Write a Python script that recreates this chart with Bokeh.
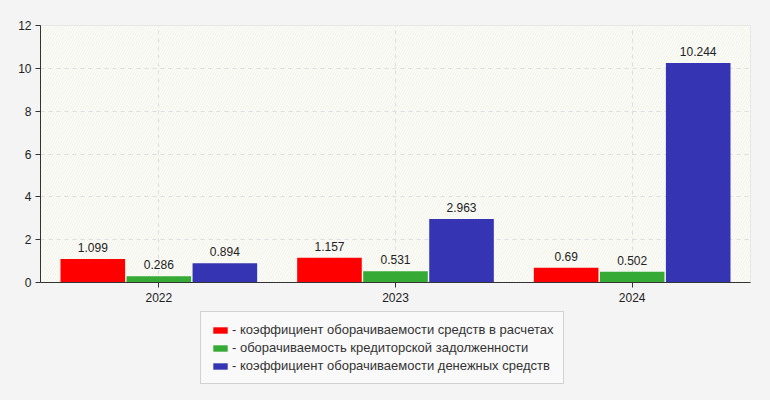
from bokeh.plotting import figure
from bokeh.layouts import column
from bokeh.models import (ColumnDataSource, FactorRange, Range1d, Legend, LegendItem,
                          LabelSet, BoxAnnotation, FixedTicker)
from bokeh.transform import dodge
from bokeh.core.properties import value
from bokeh.embed import file_html
from bokeh.resources import INLINE

years = ["2022", "2023", "2024"]
s_receivables = [1.099, 1.157, 0.69]
s_payables = [0.286, 0.531, 0.502]
s_cash = [0.894, 2.963, 10.244]
series_names = [
    "- коэффициент оборачиваемости средств в расчетах",
    "- оборачиваемость кредиторской задолженности",
    "- коэффициент оборачиваемости денежных средств",
]
colors = ["#ff0000", "#35aa35", "#3535b3"]
y_ticks = [0, 2, 4, 6, 8, 10, 12]

FONT = "Liberation Sans"
BG = "#f4f4f4"

src = ColumnDataSource(dict(
    year=years, a=s_receivables, b=s_payables, c=s_cash,
    la=[str(v) for v in s_receivables],
    lb=[str(v) for v in s_payables],
    lc=[str(v) for v in s_cash],
))

p = figure(x_range=FactorRange(*years, range_padding=0),
           y_range=Range1d(0, 12),
           frame_width=710, frame_height=257, output_backend="svg", toolbar_location=None,
           min_border_left=40, min_border_right=20, min_border_top=25, min_border_bottom=28)

p.border_fill_color = BG
p.background_fill_color = "#fdfdf7"
p.outline_line_color = "#dddddd"

bg = BoxAnnotation(fill_color="#fdfdf7", fill_alpha=1, hatch_pattern="/", hatch_color="#f1f1ec",
                   hatch_scale=5, hatch_weight=1, line_color=None, level="image")
p.add_layout(bg)

offs = [-0.279, 0.0, 0.279]
fields = ["a", "b", "c"]
lfields = ["la", "lb", "lc"]
for off, f, lf, col in zip(offs, fields, lfields, colors):
    p.vbar(x=dodge("year", off, range=p.x_range), top=f, width=0.273, source=src,
           fill_color=col, line_color=None)
    lbl = LabelSet(x=dodge("year", off, range=p.x_range), y=f, text=lf, source=src,
                   text_align="center", text_baseline="bottom", y_offset=7,
                   text_font_size="12px", text_color="#222222", text_font=value(FONT))
    p.add_layout(lbl)

p.xgrid.grid_line_color = "#dddddd"
p.xgrid.grid_line_dash = "4 4"
p.ygrid.grid_line_color = "#dddddd"
p.ygrid.grid_line_dash = "4 4"

p.yaxis.ticker = FixedTicker(ticks=y_ticks)
for ax in (p.xaxis[0], p.yaxis[0]):
    ax.axis_line_color = "#333333"
    ax.major_tick_line_color = "#333333"
    ax.major_tick_out = 5
    ax.major_tick_in = 0
    ax.minor_tick_line_color = None
    ax.major_label_text_font_size = "12px"
    ax.major_label_text_color = "#222222"
    ax.major_label_text_font = FONT
p.yaxis.major_label_standoff = 4

# legend panel below the chart
lp = figure(x_range=Range1d(0, 1), y_range=Range1d(0, 1),
            frame_width=770, frame_height=90, output_backend="svg", toolbar_location=None,
            min_border=0)
lp.axis.visible = False
lp.grid.visible = False
lp.outline_line_color = None
lp.background_fill_color = BG
lp.border_fill_color = BG
# legend swatches (their single point lies outside the visible range)
swatches = [lp.vbar(x=[5], top=[5], width=0.1, fill_color=c, line_color=None) for c in colors]

legend = Legend(items=[LegendItem(label=n, renderers=[r]) for n, r in zip(series_names, swatches)],
                location=(200, 16), orientation="vertical", margin=0,
                padding=10, spacing=3, label_height=14, glyph_height=8, glyph_width=18,
                label_standoff=3, label_text_font_size="13px", label_text_font=FONT,
                label_text_color="#333333", border_line_color="#aaaaaa",
                background_fill_color="#f9f9f9", background_fill_alpha=1)
lp.add_layout(legend)

layout = column(p, lp, spacing=0)
layout.styles = {"background-color": BG}

open("out.html", "w").write(file_html(layout, INLINE))
